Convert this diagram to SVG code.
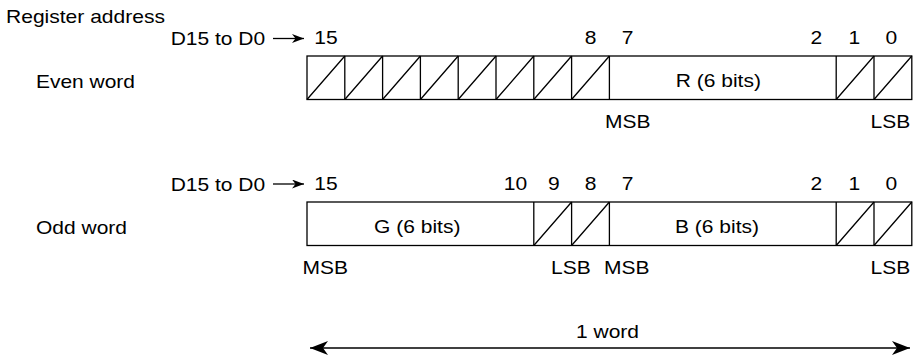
<svg xmlns="http://www.w3.org/2000/svg" width="915" height="357" viewBox="0 0 915 357">
<style>
text{font-family:"Liberation Sans",Arial,sans-serif;font-size:19px;fill:#000}
.m{text-anchor:middle}
.box{fill:#fff;stroke:#000;stroke-width:1.3}
.ln{stroke:#000;stroke-width:1.3;fill:none}
</style>
<defs>
<marker id="ahBig" markerUnits="userSpaceOnUse" markerWidth="18" markerHeight="14" viewBox="-18 -7 18 14" refX="0" refY="0" orient="auto-start-reverse">
<path d="M0,0 L-18,-7 L-13,0 L-18,7 Z" fill="#000"/>
</marker>
<marker id="ahSmall" markerUnits="userSpaceOnUse" markerWidth="12" markerHeight="9" viewBox="-12 -4.5 12 9" refX="0" refY="0" orient="auto">
<path d="M0,0 L-12,-4.5 L-8.5,0 L-12,4.5 Z" fill="#000"/>
</marker>
</defs>
<rect width="915" height="357" fill="#fff"/>
<text x="6" y="23" textLength="159" lengthAdjust="spacingAndGlyphs">Register address</text>

<g id="even-word">
<text x="170.7" y="45" textLength="94.5" lengthAdjust="spacingAndGlyphs">D15 to D0</text>
<text x="36" y="87.5" textLength="99" lengthAdjust="spacingAndGlyphs">Even word</text>
<text class="m" x="325.9" y="44" textLength="23.4" lengthAdjust="spacingAndGlyphs">15</text>
<text class="m" x="590.5" y="44" textLength="11.7" lengthAdjust="spacingAndGlyphs">8</text>
<text class="m" x="627.6" y="44" textLength="11.7" lengthAdjust="spacingAndGlyphs">7</text>
<text class="m" x="816.4" y="44" textLength="11.7" lengthAdjust="spacingAndGlyphs">2</text>
<text class="m" x="854.4" y="44" textLength="11.7" lengthAdjust="spacingAndGlyphs">1</text>
<text class="m" x="891.4" y="44" textLength="11.7" lengthAdjust="spacingAndGlyphs">0</text>
<rect class="box" x="307" y="56" width="604.8" height="43.5"/>
<path class="ln" d="M344.8,56V99.5M382.6,56V99.5M420.4,56V99.5M458.2,56V99.5M496,56V99.5M533.8,56V99.5M571.6,56V99.5M609.4,56V99.5M836.2,56V99.5M874,56V99.5"/>
<path class="ln" d="M307,99.5L344.8,56M344.8,99.5L382.6,56M382.6,99.5L420.4,56M420.4,99.5L458.2,56M458.2,99.5L496,56M496,99.5L533.8,56M533.8,99.5L571.6,56M571.6,99.5L609.4,56M836.2,99.5L874,56M874,99.5L911.8,56"/>
<text x="675.7" y="86.5" textLength="85.2" lengthAdjust="spacingAndGlyphs">R (6 bits)</text>
<text x="605" y="127.5" textLength="45.5" lengthAdjust="spacingAndGlyphs">MSB</text>
<text x="870.5" y="127.5" textLength="39.7" lengthAdjust="spacingAndGlyphs">LSB</text>
</g>

<g id="odd-word">
<text x="170.7" y="190.5" textLength="94.5" lengthAdjust="spacingAndGlyphs">D15 to D0</text>
<text x="36" y="233.5" textLength="91" lengthAdjust="spacingAndGlyphs">Odd word</text>
<text class="m" x="325.9" y="190" textLength="23.4" lengthAdjust="spacingAndGlyphs">15</text>
<text class="m" x="515.4" y="190" textLength="23.4" lengthAdjust="spacingAndGlyphs">10</text>
<text class="m" x="553.8" y="190" textLength="11.7" lengthAdjust="spacingAndGlyphs">9</text>
<text class="m" x="590.5" y="190" textLength="11.7" lengthAdjust="spacingAndGlyphs">8</text>
<text class="m" x="627.6" y="190" textLength="11.7" lengthAdjust="spacingAndGlyphs">7</text>
<text class="m" x="816.4" y="190" textLength="11.7" lengthAdjust="spacingAndGlyphs">2</text>
<text class="m" x="854.4" y="190" textLength="11.7" lengthAdjust="spacingAndGlyphs">1</text>
<text class="m" x="891.4" y="190" textLength="11.7" lengthAdjust="spacingAndGlyphs">0</text>
<rect class="box" x="307" y="202" width="604.8" height="43.5"/>
<path class="ln" d="M533.8,202V245.5M571.6,202V245.5M609.4,202V245.5M836.2,202V245.5M874,202V245.5"/>
<path class="ln" d="M533.8,245.5L571.6,202M571.6,245.5L609.4,202M836.2,245.5L874,202M874,245.5L911.8,202"/>
<text x="374" y="232.5" textLength="86.4" lengthAdjust="spacingAndGlyphs">G (6 bits)</text>
<text x="675" y="232.5" textLength="84" lengthAdjust="spacingAndGlyphs">B (6 bits)</text>
<text x="302.5" y="273.5" textLength="45.5" lengthAdjust="spacingAndGlyphs">MSB</text>
<text x="551" y="273.5" textLength="39.7" lengthAdjust="spacingAndGlyphs">LSB</text>
<text x="604" y="273.5" textLength="45.5" lengthAdjust="spacingAndGlyphs">MSB</text>
<text x="870.5" y="273.5" textLength="39.7" lengthAdjust="spacingAndGlyphs">LSB</text>
</g>

<g id="word-span">
<text class="m" x="607.5" y="338" textLength="63" lengthAdjust="spacingAndGlyphs">1 word</text>
</g>

<g id="connectors">
<line class="ln" x1="273" y1="38.5" x2="304" y2="38.5" marker-end="url(#ahSmall)"/>
<line class="ln" x1="273" y1="184" x2="304" y2="184" marker-end="url(#ahSmall)"/>
<line class="ln" x1="310" y1="348" x2="910" y2="348" marker-start="url(#ahBig)" marker-end="url(#ahBig)"/>
</g>
</svg>
